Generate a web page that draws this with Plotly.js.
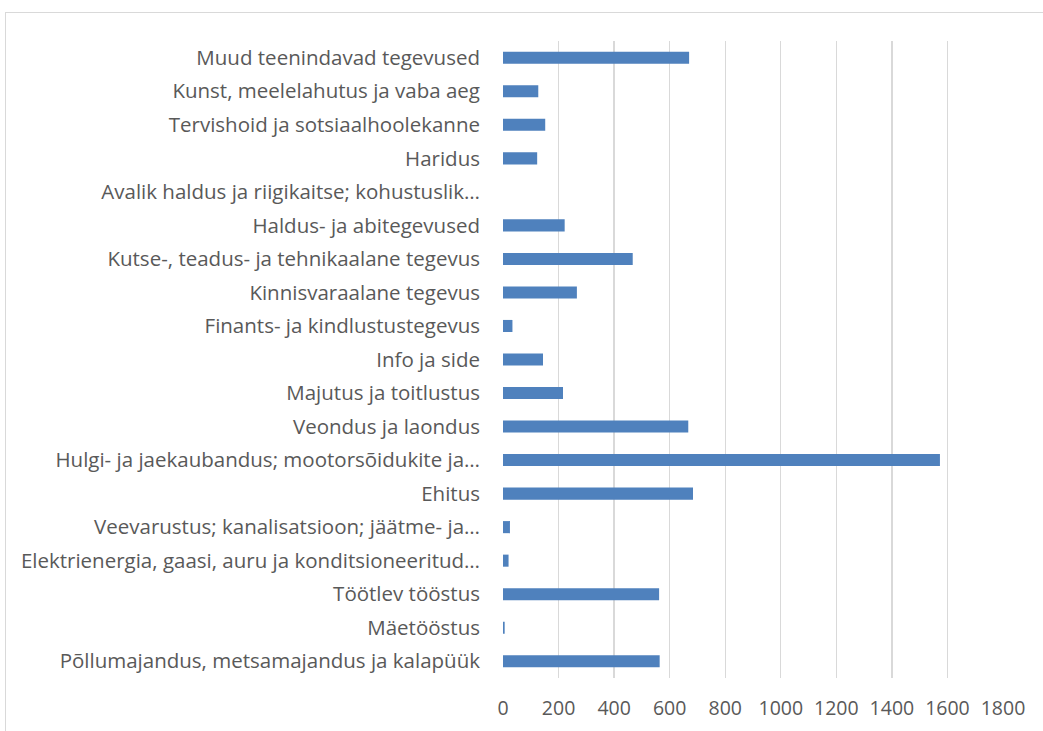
<!DOCTYPE html>
<html>
<head>
<meta charset="utf-8">
<script src="https://cdn.plot.ly/plotly-3.0.1.min.js"></script>
<style>
html,body{margin:0;padding:0;background:#fff;overflow:hidden;}
#frame{position:absolute;left:5px;top:12px;width:1100px;height:800px;border:1px solid #d9d9d9;box-sizing:border-box;}
#chart{position:absolute;left:0;top:0;width:1043px;height:731px;}
</style>
</head>
<body>
<div id="frame"></div>
<div id="chart"></div>
<script>
const categories = [
  "Põllumajandus, metsamajandus ja kalapüük",
  "Mäetööstus",
  "Töötlev tööstus",
  "Elektrienergia, gaasi, auru ja konditsioneeritud…",
  "Veevarustus; kanalisatsioon; jäätme- ja…",
  "Ehitus",
  "Hulgi- ja jaekaubandus; mootorsõidukite ja…",
  "Veondus ja laondus",
  "Majutus ja toitlustus",
  "Info ja side",
  "Finants- ja kindlustustegevus",
  "Kinnisvaraalane tegevus",
  "Kutse-, teadus- ja tehnikaalane tegevus",
  "Haldus- ja abitegevused",
  "Avalik haldus ja riigikaitse; kohustuslik…",
  "Haridus",
  "Tervishoid ja sotsiaalhoolekanne",
  "Kunst, meelelahutus ja vaba aeg",
  "Muud teenindavad tegevused"
];
const values = [564, 6, 562, 20, 25, 684, 1573, 667, 216, 144, 34, 266, 467, 222, 0, 123, 152, 127, 670];
const xTicks = [0, 200, 400, 600, 800, 1000, 1200, 1400, 1600, 1800];

const trace = {
  type: 'bar',
  orientation: 'h',
  x: values,
  y: categories,
  marker: {color: '#4f81bd', line: {width: 0}},
  hoverinfo: 'x+y'
};

const layout = {
  width: 1043,
  height: 731,
  margin: {l: 503, r: 40, t: 41, b: 53},
  paper_bgcolor: 'rgba(0,0,0,0)',
  plot_bgcolor: 'rgba(0,0,0,0)',
  bargap: 0.64,
  showlegend: false,
  font: {family: 'Open Sans, sans-serif', color: '#595959', size: 16},
  xaxis: {
    range: [0, 1800],
    tickvals: xTicks,
    ticktext: xTicks.map(String),
    showgrid: true,
    gridcolor: '#d9d9d9',
    gridwidth: 1.3,
    zeroline: false,
    showline: false,
    ticks: '',
    ticklabelstandoff: 16,
    tickfont: {size: 19.5, color: '#595959'},
    fixedrange: true
  },
  yaxis: {
    type: 'category',
    categoryorder: 'array',
    categoryarray: categories,
    showgrid: false,
    zeroline: false,
    showline: false,
    ticks: '',
    ticklabelstandoff: 22,
    tickfont: {size: 20.5, color: '#595959'},
    fixedrange: true
  }
};

Plotly.newPlot('chart', [trace], layout, {displayModeBar: false, staticPlot: true});
</script>
</body>
</html>
